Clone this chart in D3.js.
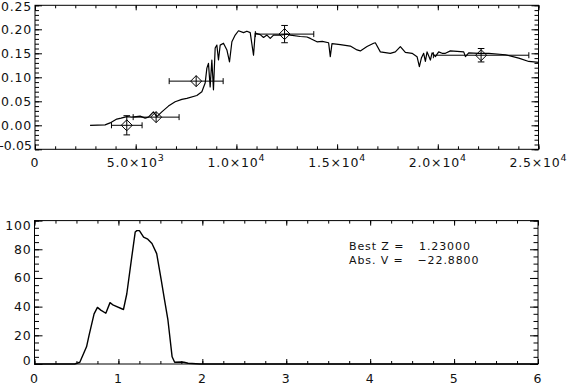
<!DOCTYPE html>
<html>
<head>
<meta charset="utf-8">
<script src="https://d3js.org/d3.v7.min.js"></script>
<style>
  body { margin: 0; background: white; }
  svg { display: block; background: white; }
  text { font-family: "DejaVu Sans", sans-serif; fill: #111; }
  .axis path.domain { display: none; }
  .axis line { stroke: #000; stroke-width: 1; }
</style>
</head>
<body>
<script>
// spectrum (wavelength, flux)
const waveLength = [2734, 3479, 3728, 4060, 4274, 4557, 4806, 5020, 5219, 5467, 5631, 5880, 6049, 6297,
  6625, 6958, 7291, 7540, 8037, 8285, 8449, 8534, 8613, 8697, 8781, 8861, 8946, 9030, 9110, 9195,
  9358, 9528, 9657, 9776, 9940, 10104, 10353, 10522, 10686, 10850, 10934, 11183, 11347, 11516,
  11680, 11844, 12177, 12509, 12674, 13171, 13504, 13668, 14001, 14264, 14578, 14662, 14746,
  15159, 15656, 15989, 16153, 16486, 16814, 16898, 17147, 17643, 17892, 18141, 18389, 18722,
  18970, 19085, 19184, 19299, 19383, 19467, 19632, 19716, 19880, 20044, 20213, 20377, 20626,
  21287, 21372, 21535, 22032, 22529, 23359, 24020, 24517, 25014];
const flux = [0.000, 0.001, 0.005, 0.013, 0.015, 0.018, 0.017, 0.018, 0.019, 0.015, 0.017, 0.028, 0.018, 0.028,
  0.040, 0.049, 0.054, 0.056, 0.062, 0.070, 0.088, 0.119, 0.129, 0.080, 0.136, 0.074, 0.161, 0.167, 0.136, 0.167,
  0.171, 0.157, 0.132, 0.174, 0.188, 0.197, 0.193, 0.196, 0.193, 0.146, 0.192, 0.189, 0.183, 0.188,
  0.181, 0.188, 0.188, 0.190, 0.188, 0.185, 0.184, 0.181, 0.174, 0.175, 0.172, 0.143, 0.170,
  0.168, 0.165, 0.157, 0.155, 0.164, 0.171, 0.172, 0.153, 0.150, 0.153, 0.164, 0.152, 0.150,
  0.143, 0.122, 0.140, 0.150, 0.133, 0.153, 0.136, 0.151, 0.143, 0.153, 0.150, 0.150, 0.155,
  0.153, 0.143, 0.151, 0.150, 0.150, 0.147, 0.140, 0.133, 0.131];

// photometry points with errors
const photWave = [4557, 6014, 8002, 12392, 22150];
const photFlux = [0.000, 0.017, 0.092, 0.190, 0.146];
const photWaveErr = [760, 1140, 1340, 1450, 2370];
const photFluxErr = [0.020, 0.004, 0.003, 0.018, 0.014];

// redshift probability
const redshift = [0, 0.48, 0.54, 0.62, 0.65, 0.71, 0.75, 0.79, 0.85, 0.90, 0.94, 1.06, 1.10, 1.16,
  1.20, 1.22, 1.25, 1.30, 1.35, 1.40, 1.456, 1.51, 1.55, 1.59, 1.64, 1.67, 1.75, 1.78, 1.83, 1.97, 6.0];
const probability = [0, 0, 1.2, 12, 20, 35, 39.5, 37.6, 35.4, 42.8, 41, 38, 49, 75,
  92, 93, 93, 88.4, 87, 84, 77, 58.6, 44.6, 30.7, 5, 1.2, 1.4, 1.2, 0.5, 0, 0];

// ticks
const topXTicks = [0, 5000, 10000, 15000, 20000, 25000];
const topXLabels = ["0", "5.0×10^3", "1.0×10^4", "1.5×10^4", "2.0×10^4", "2.5×10^4"];
const topYTicks = [-0.05, 0, 0.05, 0.10, 0.15, 0.20, 0.25];
const topYLabels = ["-0.05", "0.00", "0.05", "0.10", "0.15", "0.20", "0.25"];
const botXTicks = [0, 1, 2, 3, 4, 5, 6];
const botXLabels = ["0", "1", "2", "3", "4", "5", "6"];
const botYTicks = [0, 20, 40, 60, 80, 100];
const botYLabels = ["0", "20", "40", "60", "80", "100"];

const W = 570, H = 388;
const svg = d3.select("body").append("svg").attr("width", W).attr("height", H);

function frame(x, y, o) {
  const [x0, x1] = x.range(), [y0, y1] = y.range();
  const g = svg.append("g");
  // ticks on all four sides, pointing in
  const ax = (gen, tr, vals, len) => g.append("g").attr("class", "axis").attr("transform", tr)
      .call(gen.tickValues(vals).tickSize(len).tickSizeOuter(0).tickFormat(""));
  ax(d3.axisBottom(x), `translate(0,${y0})`, o.xMinor, -o.xMinLen);
  ax(d3.axisBottom(x), `translate(0,${y0})`, o.xTicks, -o.xLen);
  ax(d3.axisTop(x), `translate(0,${y1})`, o.xMinor, -o.xMinLen);
  ax(d3.axisTop(x), `translate(0,${y1})`, o.xTicks, -o.xLen);
  ax(d3.axisLeft(y), `translate(${x0},0)`, o.yMinor, -o.yMinLen);
  ax(d3.axisLeft(y), `translate(${x0},0)`, o.yTicks, -o.yLen);
  ax(d3.axisRight(y), `translate(${x1},0)`, o.yMinor, -o.yMinLen);
  ax(d3.axisRight(y), `translate(${x1},0)`, o.yTicks, -o.yLen);
  g.append("rect").attr("x", x0).attr("y", y1).attr("width", x1 - x0).attr("height", y0 - y1)
    .attr("fill", "none").attr("stroke", "#000").attr("stroke-width", 1);

  // x labels (with optional superscript)
  g.selectAll(".xl").data(o.xTicks).join("text")
    .attr("x", d => x(d)).attr("y", y0 + o.xLabDy)
    .attr("text-anchor", "middle").attr("font-size", 12.5).attr("letter-spacing", 0.8)
    .each(function(d, i) {
      const parts = o.xLabels[i].split("^");
      const t = d3.select(this);
      t.append("tspan").text(parts[0]);
      if (parts[1]) t.append("tspan").attr("dy", -6).attr("font-size", 9.5).text(parts[1]);
    });
  // y labels
  g.selectAll(".yl").data(o.yTicks).join("text")
    .attr("x", x0 - 3).attr("y", d => Math.max(y1 + o.yClampTop, Math.min(y0 - o.yClampBot, y(d))))
    .attr("dy", "0.36em").attr("text-anchor", "end")
    .attr("font-size", 12.5)
    .attr("letter-spacing", (d, i) => o.yLabels[i].startsWith("-") ? 0.1 : 0.8)
    .text((d, i) => o.yLabels[i]);
  return g;
}

// ---- top panel ----
const xT = d3.scaleLinear().domain([0, 25000]).range([35, 538.5]);
const yT = d3.scaleLinear().domain([-0.05, 0.25]).range([149.3, 5.3]);
frame(xT, yT, {
  xTicks: topXTicks, xLabels: topXLabels, xMinor: d3.range(0, 25001, 1000),
  yTicks: topYTicks, yLabels: topYLabels, yMinor: d3.range(-0.05, 0.2501, 0.01),
  xLen: 5, xMinLen: 3, yLen: 7, yMinLen: 4, xLabDy: 18, yClampTop: 1, yClampBot: 3.6
});

const spec = waveLength.map((w, i) => [w, flux[i]]);
svg.append("path").datum(spec)
  .attr("d", d3.line().x(d => xT(d[0])).y(d => yT(d[1])))
  .attr("fill", "none").attr("stroke", "#000").attr("stroke-width", 1.2).attr("stroke-linejoin", "round");

const phot = svg.append("g").attr("stroke", "#000").attr("stroke-width", 1).attr("fill", "none");
photWave.forEach((w, i) => {
  const cx = xT(w), cy = yT(photFlux[i]);
  const xa = xT(w - photWaveErr[i]), xb = xT(w + photWaveErr[i]);
  const ya = yT(photFlux[i] + photFluxErr[i]), yb = yT(photFlux[i] - photFluxErr[i]);
  phot.append("line").attr("x1", xa).attr("x2", xb).attr("y1", cy).attr("y2", cy);
  phot.append("line").attr("x1", xa).attr("x2", xa).attr("y1", cy - 3).attr("y2", cy + 3);
  phot.append("line").attr("x1", xb).attr("x2", xb).attr("y1", cy - 3).attr("y2", cy + 3);
  phot.append("line").attr("x1", cx).attr("x2", cx).attr("y1", Math.min(ya, cy - 5.5)).attr("y2", Math.max(yb, cy + 5.5));
  if (yb - ya > 11) {
    phot.append("line").attr("x1", cx - 3.3).attr("x2", cx + 3.3).attr("y1", ya).attr("y2", ya);
    phot.append("line").attr("x1", cx - 3.3).attr("x2", cx + 3.3).attr("y1", yb).attr("y2", yb);
  }
  phot.append("path").attr("d", `M${cx - 5.5},${cy}L${cx},${cy - 5.5}L${cx + 5.5},${cy}L${cx},${cy + 5.5}Z`);
});

// ---- bottom panel ----
const xB = d3.scaleLinear().domain([0, 6]).range([34.5, 538]);
const yB = d3.scaleLinear().domain([0, 100]).range([364, 220.6]);
frame(xB, yB, {
  xTicks: botXTicks, xLabels: botXLabels, xMinor: d3.range(0, 6.001, 0.25),
  yTicks: botYTicks, yLabels: botYLabels, yMinor: d3.range(0, 100.01, 5),
  xLen: 5, xMinLen: 3, yLen: 8, yMinLen: 4.5, xLabDy: 19, yClampTop: 4.4, yClampBot: 4
});

const pz = redshift.map((z, i) => [z, probability[i]]);
svg.append("path").datum(pz)
  .attr("d", d3.line().x(d => xB(d[0])).y(d => yB(d[1])))
  .attr("fill", "none").attr("stroke", "#000").attr("stroke-width", 1.4).attr("stroke-linejoin", "round");

const ann = svg.append("g").attr("font-size", 11).attr("letter-spacing", 0.9);
ann.append("text").attr("x", 349).attr("y", 249.5).text("Best Z =");
ann.append("text").attr("x", 419).attr("y", 249.5).text("1.23000");
ann.append("text").attr("x", 349).attr("y", 263.5).text("Abs. V =");
ann.append("text").attr("x", 417.5).attr("y", 263.5).text("\u221222.8800");
</script>
</body>
</html>
